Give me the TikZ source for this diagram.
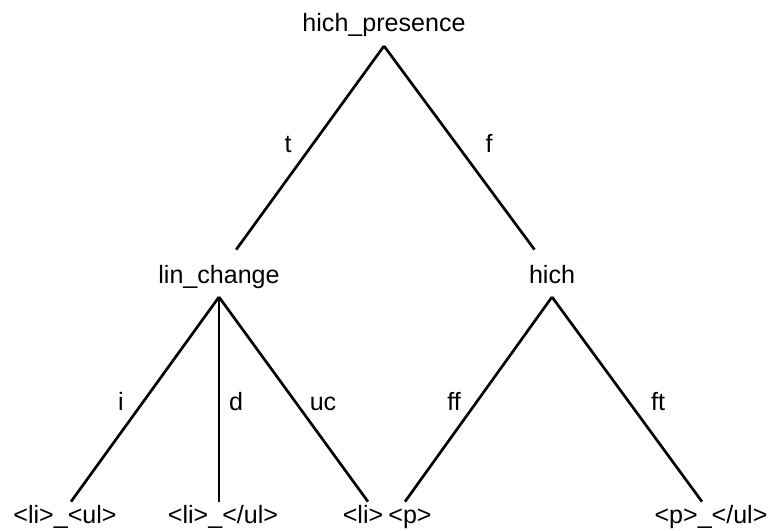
\documentclass[tikz,border=0pt]{standalone}
\usepackage{fontspec}
\setmainfont{Liberation Sans}
\begin{document}
\begin{tikzpicture}[x=0.75pt, y=-0.75pt, line width=2pt,
  lbl/.style={font=\fontsize{18.8}{22}\selectfont, inner sep=0pt, anchor=base},
  split/.style={lbl, text height=24pt, text depth=9.5pt},
  leaf/.style={lbl, text height=15pt, text depth=5pt},
  cond/.style={lbl}]
  \useasboundingbox (0,0) rectangle (771,531);
  % 판정 노드
  \node[split] (presence) at (384,32) {hich\_presence};
  \node[split] (linchange) at (219,283) {lin\_change};
  \node[split] (hich) at (552,283) {hich};
  % 잎
  \node[leaf] (liul) at (65,523) {<li>\_<ul>};
  \node[leaf] (liclose) at (223,523) {<li>\_</ul>};
  \node[leaf] (li) at (363,523) {<li>};
  \node[leaf] (p) at (410,523) {<p>};
  \node[leaf] (pclose) at (711,523) {<p>\_</ul>};
  % 가지
  \draw (presence.south) -- (linchange);
  \draw (presence.south) -- (hich);
  \draw (linchange.south) -- ([xshift=4.5pt]liul.north);
  \draw (linchange.south) -- ([xshift=-3pt]liclose.north);
  \draw (linchange.south) -- ([xshift=3.75pt]li.north);
  \draw (hich.south) -- ([xshift=-3.75pt]p.north);
  \draw (hich.south) -- ([xshift=-6.75pt]pclose.north);
  % 가지 이름
  \node[cond] (ct) at (288,153) {t};
  \node[cond] (cf) at (489,153) {f};
  \node[cond] (ci) at (121,410) {i};
  \node[cond] (cd) at (236,410) {d};
  \node[cond] (cuc) at (323,410) {uc};
  \node[cond] (cff) at (454,410) {ff};
  \node[cond] (cft) at (658,410) {ft};
\end{tikzpicture}
\end{document}
